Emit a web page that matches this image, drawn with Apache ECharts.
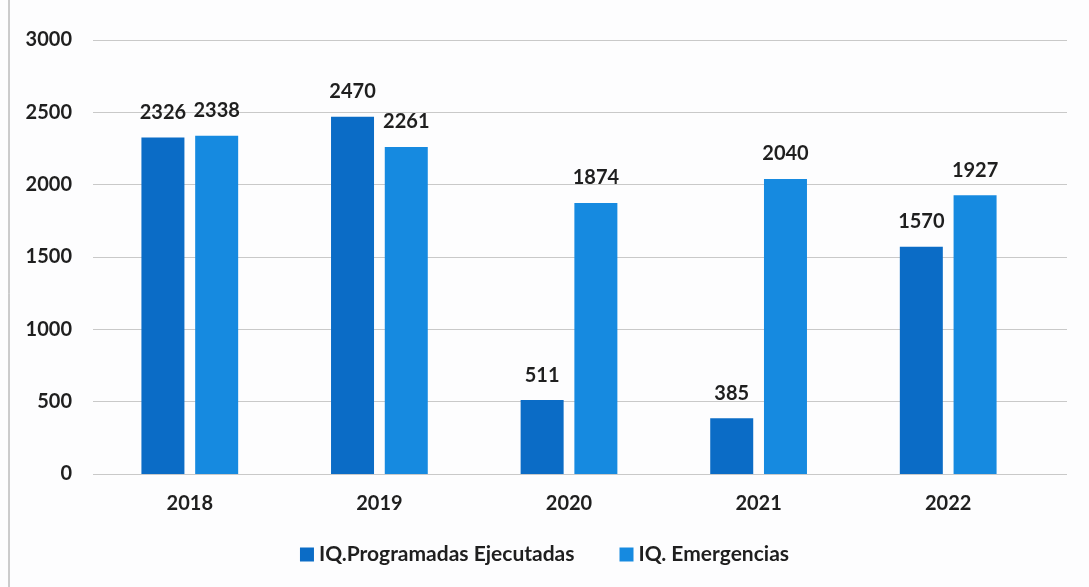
<!DOCTYPE html>
<html>
<head>
<meta charset="utf-8">
<script src="https://cdn.jsdelivr.net/npm/echarts@6/dist/echarts.min.js"></script>
<style>
  html, body { margin: 0; padding: 0; background: #fdfdfe; }
  #chart { width: 1089px; height: 587px; }
</style>
</head>
<body>
<div id="chart"></div>
<script>
  var years = ['2018', '2019', '2020', '2021', '2022'];
  var programadas = [2326, 2470, 511, 385, 1570];
  var emergencias = [2338, 2261, 1874, 2040, 1927];
  var seriesNames = ['IQ.Programadas Ejecutadas', 'IQ. Emergencias'];

  var darkBlue = '#0b6cc6';
  var lightBlue = '#168ae0';
  var font = 'Lato, "Liberation Sans", sans-serif';

  var chart = echarts.init(document.getElementById('chart'));

  var labelStyle = {
    show: true,
    position: 'top',
    distance: 15,
    fontFamily: font,
    fontWeight: 'bold',
    fontSize: 20,
    color: '#1f1f1f'
  };

  var option = {
    backgroundColor: '#fdfdfe',
    animation: false,
    textStyle: { fontFamily: font },
    legend: {
      bottom: 17,
      left: 'center',
      itemWidth: 14,
      itemHeight: 14,
      itemGap: 45,
      icon: 'rect',
      textStyle: { fontFamily: font, fontWeight: 'bold', fontSize: 21, color: '#1f1f1f' },
      data: seriesNames
    },
    // grid 0 only draws the long gridlines, grid 1 holds the bars
    grid: [
      { left: 93, right: 22, top: 40, bottom: 113 },
      { left: 95, right: 46, top: 40, bottom: 113 }
    ],
    xAxis: [
      { gridIndex: 0, type: 'category', data: years, show: false },
      {
        gridIndex: 1,
        type: 'category',
        data: years,
        axisLine: { show: false },
        axisTick: { show: false },
        axisLabel: { margin: 20, fontFamily: font, fontWeight: 'bold', fontSize: 20, color: '#1f1f1f' }
      }
    ],
    yAxis: [
      {
        gridIndex: 0,
        type: 'value',
        min: 0,
        max: 3000,
        interval: 500,
        axisLabel: { show: false },
        axisLine: { show: false },
        axisTick: { show: false },
        splitLine: { lineStyle: { color: '#c9c9c9', width: 1 } }
      },
      {
        gridIndex: 1,
        type: 'value',
        min: 0,
        max: 3000,
        interval: 500,
        splitLine: { show: false },
        axisLine: { show: false },
        axisTick: { show: false },
        axisLabel: {
          margin: 23,
          formatter: function (v) { return String(v); },
          fontFamily: font, fontWeight: 'bold', fontSize: 20, color: '#1f1f1f'
        }
      }
    ],
    graphic: [{
      type: 'line',
      shape: { x1: 9, y1: 0, x2: 9, y2: 587 },
      style: { stroke: '#9a9a9a', lineWidth: 1 }
    }],
    series: [
      {
        name: seriesNames[0],
        type: 'bar',
        xAxisIndex: 1,
        yAxisIndex: 1,
        barWidth: 43,
        barGap: '25%',
        itemStyle: { color: darkBlue },
        label: labelStyle,
        data: programadas
      },
      {
        name: seriesNames[1],
        type: 'bar',
        xAxisIndex: 1,
        yAxisIndex: 1,
        barWidth: 43,
        barGap: '25%',
        itemStyle: { color: lightBlue },
        label: labelStyle,
        data: emergencias
      }
    ]
  };

  chart.setOption(option);
</script>
</body>
</html>
